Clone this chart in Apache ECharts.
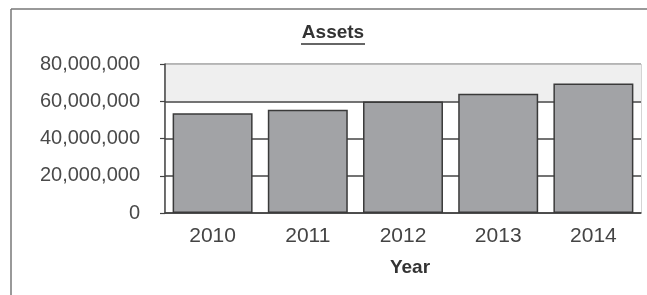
<!DOCTYPE html>
<html>
<head>
<meta charset="utf-8">
<script src="https://cdn.jsdelivr.net/npm/echarts@6/dist/echarts.min.js"></script>
<style>
  html, body { margin: 0; padding: 0; background: #fff; }
  #main { width: 647px; height: 295px; }
</style>
</head>
<body>
<div id="main"></div>
<script>
// data
const years = ['2010', '2011', '2012', '2013', '2014']
const assets = [53600000, 55400000, 59800000, 64000000, 69500000]
const yTicks = [0, 20000000, 40000000, 60000000, 80000000]

const fmt = v => v.toLocaleString('en-US')

const chart = echarts.init(document.getElementById('main'))
chart.setOption({
  animation: false,
  textStyle: { fontFamily: 'Liberation Sans' },
  graphic: [
    // frame (left + top)
    { type: 'line', shape: { x1: 11, y1: 9, x2: 11, y2: 295 }, style: { stroke: '#777', lineWidth: 1.5 } },
    { type: 'line', shape: { x1: 11, y1: 9, x2: 647, y2: 9 }, style: { stroke: '#777', lineWidth: 1.5 } },
    // title, underlined
    {
      type: 'text', x: 333, y: 33,
      style: {
        text: 'Assets', align: 'center', verticalAlign: 'middle',
        font: 'bold 19px "Liberation Sans"', fill: '#333'
      }
    },
    { type: 'line', shape: { x1: 301, y1: 44, x2: 365, y2: 44 }, style: { stroke: '#333', lineWidth: 1.4 } }
  ],
  grid: {
    left: 165, right: 6, top: 64, bottom: 82,
    show: true, borderColor: '#aaa', borderWidth: 1, backgroundColor: 'transparent'
  },
  xAxis: {
    type: 'category',
    data: years,
    name: 'Year',
    nameLocation: 'middle',
    nameGap: 45,
    nameTextStyle: { fontSize: 19, fontWeight: 'bold', color: '#333', padding: [0, 0, 0, 14] },
    axisLine: { lineStyle: { color: '#444', width: 1.5 } },
    axisTick: { length: 5, lineStyle: { color: '#444', width: 1.2 } },
    axisLabel: { fontSize: 21, color: '#444', margin: 13 }
  },
  yAxis: {
    type: 'value',
    min: yTicks[0],
    max: yTicks[yTicks.length - 1],
    interval: 20000000,
    axisLine: { show: true, lineStyle: { color: '#444', width: 1.5 } },
    axisTick: { show: true, length: 5, lineStyle: { color: '#444', width: 1.2 } },
    axisLabel: { fontSize: 20, color: '#4a4a4a', margin: 25, formatter: fmt },
    splitLine: { lineStyle: { color: ['#444', '#444', '#444', '#444', '#aaa'], width: 1.5 } },
    splitArea: { show: true, areaStyle: { color: ['#fff', '#fff', '#fff', '#efefef'] } }
  },
  series: [{
    type: 'bar',
    data: assets,
    barCategoryGap: '16%',
    itemStyle: { color: '#a2a3a6', borderColor: '#3a3a3a', borderWidth: 1.5 }
  }]
})
</script>
</body>
</html>
